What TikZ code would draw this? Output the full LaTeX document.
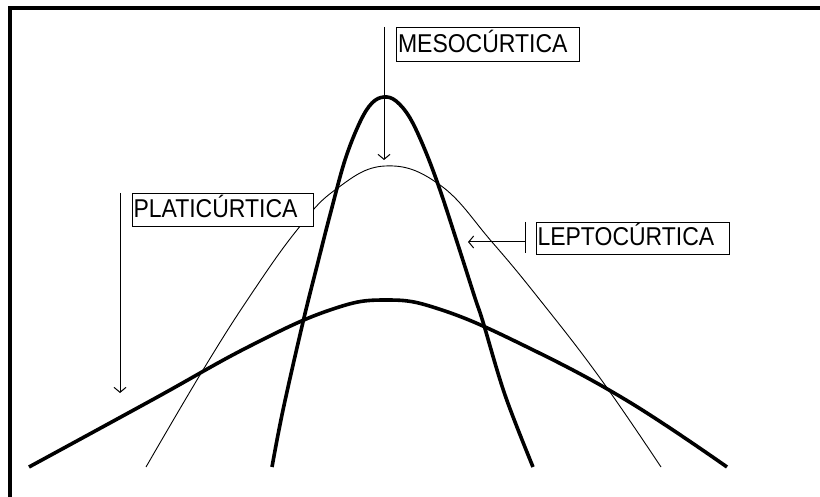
\documentclass[tikz,border=0pt]{standalone}
\usepackage{fontspec}
\setmainfont{Liberation Sans}
\usetikzlibrary{arrows.meta}
\newcommand{\labtxt}[1]{\scalebox{1}[1.12]{#1}}
\tikzset{
  frame/.style={line width=4pt, line join=miter},
  thickcurve/.style={line width=3.6pt, line join=round},
  thincurve/.style={line width=0.9pt, line join=round},
  labelbox/.style={draw, line width=1pt, fill=white, anchor=north west, inner ysep=0pt,
     align=left, font=\fontsize{23}{23}\selectfont},
  pointer/.style={line width=1pt, -{Straight Barb[length=5pt,width=12pt,line width=1pt]}},
}
\begin{document}
\begin{tikzpicture}[x=1pt, y=-1pt]
\useasboundingbox (0,0) rectangle (820,497);
% frame (left and top)
\coordinate (fbl) at (10,497);
\coordinate (ftl) at (10,8);
\coordinate (ftr) at (820,8);
\draw[frame] (fbl) -- (ftl) -- (ftr);
% thin curve
\draw[thincurve] plot[smooth, tension=0.7] coordinates {
 (146,467) (203,370) (250,296) (297,230) (335,190) (385,166)
 (440,185) (492,242) (540,300) (600,378) (661,467)};
% thick tall curve
\draw[thickcurve] plot[smooth, tension=0.6] coordinates {
 (272,467) (283,410) (303,322) (318,262) (330,215) (345,160) (360,122) (372,103) (384,97)
 (396,101) (410,118) (425,150) (440,190) (458,245) (475,298) (483,322) (505,395) (533,467)};
% thick flat curve
\draw[thickcurve] plot[smooth, tension=0.7] coordinates {
 (29,467) (152,400) (250,346) (330,310) (386,300) (442,310) (525,346) (626,400) (727,467)};
% labels
\node[labelbox, inner xsep=1.5pt, text width=180pt, minimum height=34pt,
      text height=25pt, text depth=9pt] (meso) at (396,27) {\labtxt{MESOCÚRTICA}};
\node[labelbox, inner xsep=1pt, text width=179pt, minimum height=33pt,
      text height=23.7pt, text depth=9.3pt] (plati) at (132,193) {\labtxt{PLATICÚRTICA}};
\node[labelbox, inner xsep=1pt, text width=191pt, minimum height=32pt,
      text height=23pt, text depth=9pt] (lepto) at (536,222) {\labtxt{LEPTOCÚRTICA}};
% pointers
\coordinate (mesoS) at (384,27);
\coordinate (mesoE) at (384,160);
\draw[pointer] (mesoS) -- (mesoE);
\coordinate (platiS) at (120,193);
\coordinate (platiE) at (120,393);
\draw[pointer] (platiS) -- (platiE);
\coordinate (barT) at (525,222);
\coordinate (barB) at (525,253);
\draw[line width=1pt] (barT) -- (barB);
\coordinate (leptoS) at (525,242);
\coordinate (leptoE) at (468,242);
\draw[pointer] (leptoS) -- (leptoE);
\end{tikzpicture}
\end{document}
